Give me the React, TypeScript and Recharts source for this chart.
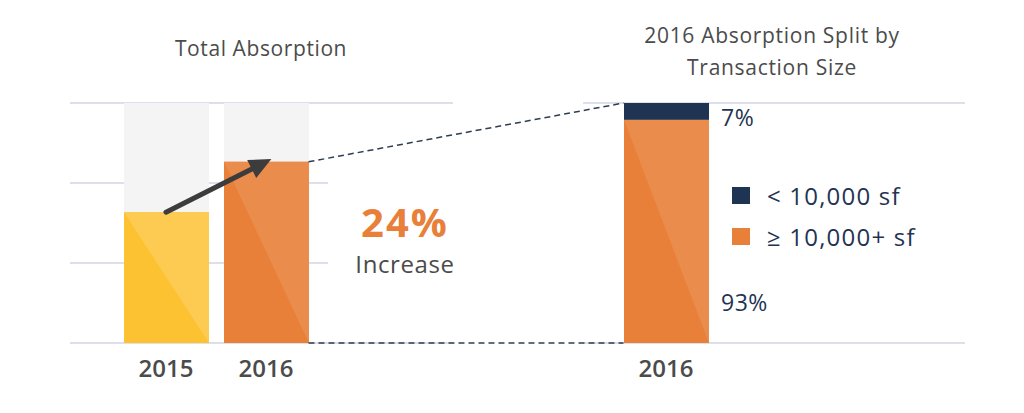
import { Bar, CartesianGrid, Cell, ComposedChart, LabelList, Legend, ReferenceLine, XAxis, YAxis } from "recharts"

// categories on one shared x axis: the two years, an empty gap, then the 2016 split bar
const categories = ["y2015", "y2016", "gap1", "gap2", "gap3", "split"]
const tickLabels = ["2015", "2016", "", "", "", "2016"]

// total absorption, as share of the chart height
const totalAbsorption = [54.5, 75.5, null, null, null, null]
// 2016 split by transaction size (%)
const largeDeals = [null, null, null, null, null, 93]
const smallDeals = [null, null, null, null, null, 7]

const gridTicks = [0, 100 / 3, 200 / 3, 100]
const legendOrder = ["small", "large"]

const data = categories.map((key, i) => ({
  key,
  total: totalAbsorption[i],
  large: largeDeals[i],
  small: smallDeals[i],
}))

const FONT = '"Open Sans", sans-serif'
const NAVY = "#1F3452"
const ORANGE = "#E8803A"
const YELLOW = "#FDC232"
const GREY_TEXT = "#4B4B4B"
const GRID = "#DDE0EA"
const TRACK = "#F4F4F4"
const BAR_SIZE = 85

const totalColors = [YELLOW, ORANGE]
const sheenColor: Record<string, string> = {
  [YELLOW]: "#FDCB52",
  [ORANGE]: "#EA8C4C",
}

function SheenRect({ x, y, width, height, fill }: any) {
  return (
    <g>
      <rect x={x} y={y} width={width} height={height} fill={fill} />
      <polygon
        points={`${x},${y} ${x + width},${y} ${x + width},${y + height}`}
        fill={sheenColor[fill] || fill}
      />
    </g>
  )
}

function TotalShape(props: any) {
  const { height, background } = props
  if (!height || height <= 0) return <g />
  return (
    <g>
      {background && (
        <rect x={background.x} y={background.y} width={background.width} height={background.height} fill={TRACK} />
      )}
      <SheenRect {...props} />
    </g>
  )
}

function LargeShape(props: any) {
  if (!props.height || props.height <= 0) return <g />
  return <SheenRect {...props} fill={ORANGE} />
}

function SmallShape(props: any) {
  const { x, y, width, height } = props
  if (!height || height <= 0) return <g />
  return <rect x={x} y={y} width={width} height={height} fill={NAVY} />
}

function GridLine(props: any) {
  const { x1, x2, y1, index } = props
  const edge = index === 0 || index === gridTicks.length - 1
  const leftEnd = edge ? 453 : 328
  return (
    <g key={`grid-${index}`}>
      <line x1={x1} x2={leftEnd} y1={y1} y2={y1} stroke={GRID} strokeWidth={2} />
      {edge && <line x1={583} x2={x2} y1={y1} y2={y1} stroke={GRID} strokeWidth={2} />}
    </g>
  )
}

function ArrowShape({ x1, y1, x2, y2 }: any) {
  const len = Math.hypot(x2 - x1, y2 - y1)
  const ux = (x2 - x1) / len
  const uy = (y2 - y1) / len
  const tipX = x2 + ux * 6
  const tipY = y2 + uy * 6
  const head = 22
  const half = 10
  const bx = tipX - ux * head
  const by = tipY - uy * head
  return (
    <g>
      <line x1={x1} y1={y1} x2={bx + ux * 4} y2={by + uy * 4} stroke="#3C3C3C" strokeWidth={5} strokeLinecap="round" />
      <polygon
        points={`${tipX},${tipY} ${bx - uy * half},${by + ux * half} ${bx + uy * half},${by - ux * half}`}
        fill="#3C3C3C"
      />
    </g>
  )
}

function DashShape({ x1, y1, x2, y2 }: any) {
  return (
    <line
      x1={x1 + BAR_SIZE / 2}
      y1={y1}
      x2={x2 - BAR_SIZE / 2}
      y2={y2}
      stroke="#2E3D52"
      strokeWidth={1.5}
      strokeDasharray="6 4"
    />
  )
}

function SplitLabel(props: any) {
  const { x, y, width, height, value, placement } = props
  if (value == null) return null
  const ty = placement === "top" ? y + height / 2 + 15 : y + height - 32
  return (
    <text x={x + width + 12} y={ty} fill={NAVY} fontSize={23} letterSpacing={0.5} fontFamily={FONT}>
      {`${value}%`}
    </text>
  )
}

function LegendContent({ payload }: any) {
  const items = legendOrder
    .map((k) => (payload || []).find((p: any) => p.dataKey === k))
    .filter(Boolean)
  return (
    <div style={{ fontFamily: FONT }}>
      {items.map((item: any) => (
        <div key={item.value} style={{ display: "flex", alignItems: "center", height: 41 }}>
          <span style={{ width: 18, height: 17, background: item.color, marginRight: 17, flex: "none" }} />
          <span style={{ fontSize: 24, letterSpacing: 1.2, color: NAVY, whiteSpace: "nowrap" }}>{item.value}</span>
        </div>
      ))}
    </div>
  )
}

export default function App() {
  return (
    <div style={{ position: "absolute", left: 0, top: 0, width: 1024, height: 413, background: "#fff", fontFamily: FONT }}>
      <ComposedChart width={1024} height={413} data={data} margin={{ top: 103, right: 59, bottom: 0, left: 70 }}>
        <CartesianGrid vertical={false} horizontal={GridLine} />
        <XAxis
          dataKey="key"
          type="category"
          interval={0}
          height={70}
          axisLine={false}
          tickLine={false}
          tickMargin={11}
          padding={{ left: 46, right: 249 }}
          tick={{ fill: GREY_TEXT, fontSize: 24, fontWeight: 600, fontFamily: FONT }}
          tickFormatter={(v: string) => tickLabels[categories.indexOf(v)]}
        />
        <YAxis hide domain={[0, 100]} ticks={gridTicks} />
        <Bar dataKey="total" stackId="s" barSize={BAR_SIZE} shape={TotalShape} legendType="none" isAnimationActive={false}>
          {data.map((d, i) => (
            <Cell key={d.key} fill={totalColors[i] || ORANGE} />
          ))}
        </Bar>
        <Bar dataKey="large" name="≥ 10,000+ sf" stackId="s" barSize={BAR_SIZE} fill={ORANGE} shape={LargeShape} isAnimationActive={false}>
          <LabelList dataKey="large" content={(p: any) => <SplitLabel {...p} placement="bottom" />} />
        </Bar>
        <Bar dataKey="small" name="< 10,000 sf" stackId="s" barSize={BAR_SIZE} fill={NAVY} shape={SmallShape} isAnimationActive={false}>
          <LabelList dataKey="small" content={(p: any) => <SplitLabel {...p} placement="top" />} />
        </Bar>
        <ReferenceLine
          segment={[
            { x: "y2016", y: totalAbsorption[1] as number },
            { x: "split", y: (largeDeals[5] as number) + (smallDeals[5] as number) },
          ]}
          shape={DashShape}
        />
        <ReferenceLine
          segment={[
            { x: "y2016", y: 0 },
            { x: "split", y: 0 },
          ]}
          shape={DashShape}
        />
        <ReferenceLine
          segment={[
            { x: "y2015", y: totalAbsorption[0] as number },
            { x: "y2016", y: totalAbsorption[1] as number },
          ]}
          shape={ArrowShape}
        />
        <Legend
          layout="vertical"
          align="center"
          verticalAlign="middle"
          content={LegendContent}
          wrapperStyle={{ left: 732, top: 175, width: 260 }}
        />
      </ComposedChart>

      <div style={{ position: "absolute", left: 111, width: 300, top: 38, textAlign: "center", fontSize: 21, lineHeight: "21px", letterSpacing: 0.6, color: GREY_TEXT, fontWeight: 500 }}>
        Total Absorption
      </div>
      <div style={{ position: "absolute", left: 622, width: 300, top: 19, textAlign: "center", fontSize: 21, lineHeight: "32px", letterSpacing: 0.7, color: GREY_TEXT, fontWeight: 500 }}>
        2016 Absorption Split by
        <br />
        Transaction Size
      </div>
      <div style={{ position: "absolute", left: 330, width: 150, top: 202, textAlign: "center", color: ORANGE, fontSize: 40, lineHeight: "40px", letterSpacing: 2, fontWeight: 700 }}>
        24%
      </div>
      <div style={{ position: "absolute", left: 330, width: 150, top: 252, textAlign: "center", color: GREY_TEXT, fontSize: 24, lineHeight: "24px", letterSpacing: 0.6 }}>
        Increase
      </div>
    </div>
  )
}
